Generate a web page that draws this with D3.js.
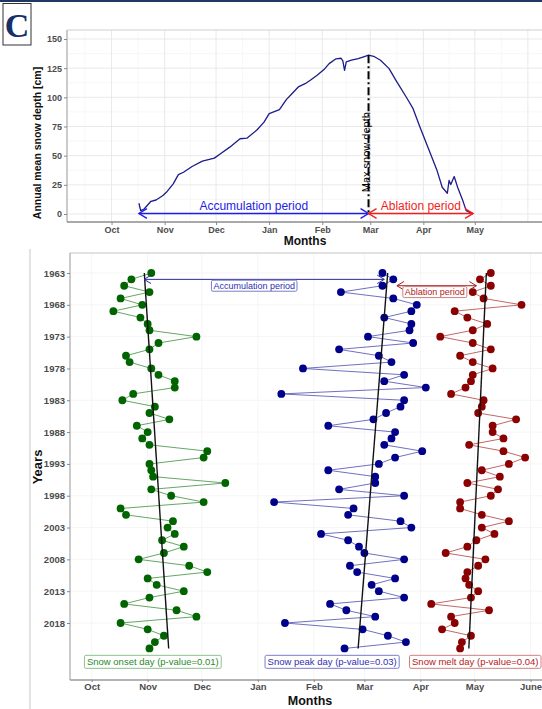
<!DOCTYPE html>
<html><head><meta charset="utf-8">
<script src="https://cdn.jsdelivr.net/npm/d3@7"></script>
<style>
body{margin:0;background:#fff;}
svg{display:block;font-family:"Liberation Sans",Arial,sans-serif;}
</style>
</head><body>
<svg id="c" width="542" height="709"></svg>
<script>
// ---------- Top panel data: annual mean snow depth (cm) ----------
const depthDates = ["10-17","10-18","10-20","10-24","10-27","10-31","11-02","11-06","11-09","11-12","11-17","11-23","11-30",
  "12-04","12-09","12-15","12-19","12-25","12-29","01-01","01-07","01-11","01-14","01-18","01-22","01-25","01-29",
  "02-02","02-05","02-09","02-12","02-13","02-14","02-15","02-18","02-22","02-26","02-28","03-03","03-07","03-12",
  "03-16","03-22","03-26","03-30","04-04","04-09","04-12","04-15","04-16","04-17","04-19","04-21","04-24","04-26","04-30"];
const depthValues = [9.2,2.9,4.3,10.9,12,15.8,18.6,25.8,33.8,35.8,40.7,45.3,47.9,
  52.1,57.3,64.5,65,72.2,78.8,86,89.4,98,102.6,108.9,111.7,114.6,118.9,
  123.8,128.9,133,133.5,131.2,123.2,130.4,131.8,133.2,135.2,136.1,135.2,131.8,124.6,
  114.6,100.3,90.3,74.5,55.9,37.2,22.9,17.8,28.7,25.2,32.1,22.9,11.5,2.9,0];
const depthTicks = [0,25,50,75,100,125,150];
const topMonthTicks = ["10-01","11-01","12-01","01-01","02-01","03-01","04-01","05-01"];
const topMonthLabels = ["Oct","Nov","Dec","Jan","Feb","Mar","Apr","May"];
const topPeriodNames = ["Accumulation period","Ablation period"];
const maxLabel = "Max snow depth";

// ---------- Bottom panel data: yearly snow days ----------
const years = d3.range(1963, 2023);
const onsetDay = ["11-03","10-23","10-19","11-02","10-17","10-29","10-13","10-28","11-01","11-02",
  "11-28","11-07","11-02","10-20","10-22","11-03","11-07","11-16","11-16","10-24",
  "10-18","11-05","11-02","11-13","10-26","11-01","10-29","11-02","12-04","12-02",
  "11-02","11-03","11-04","12-14","11-03","11-14","12-02","10-17","10-20","11-15",
  "11-12","11-16","11-09","11-21","11-10","10-27","11-24","12-04","11-01","11-06",
  "11-21","11-02","10-19","11-17","11-28","10-17","11-01","11-10","11-05","11-02"];
const peakDay = ["03-11","03-17","03-11","02-16","03-17","03-30","03-27","03-12","03-27","03-26",
  "03-03","03-28","02-15","03-09","03-16","01-26","03-23","03-12","04-04","01-14",
  "03-23","03-21","03-13","03-06","02-09","03-18","03-16","03-12","04-02","03-18",
  "03-09","02-09","03-07","03-07","02-15","03-23","01-10","02-23","02-20","03-21",
  "03-27","02-05","02-20","02-26","03-01","03-23","02-21","02-25","03-18","03-05",
  "03-09","03-23","02-10","02-19","03-07","01-16","02-28","03-14","03-24","02-18"];
const meltDay = ["05-10","05-04","05-10","04-30","05-06","05-27","04-20","04-27","05-08","04-30",
  "04-12","04-30","05-10","04-23","04-30","05-11","04-30","04-29","04-26","04-18",
  "05-06","05-05","05-03","05-24","05-11","05-11","05-17","04-28","05-17","05-29",
  "05-20","05-05","05-15","04-27","05-14","05-10","04-23","04-23","05-05","05-20",
  "05-05","05-12","05-02","04-27","04-15","05-07","05-03","04-27","04-26","04-28",
  "05-03","04-29","04-07","05-09","04-18","04-20","04-13","04-29","04-24","04-23"];
const seriesNames = ["Snow onset day (p-value=0.01)","Snow peak day (p-value=0.03)","Snow melt day (p-value=0.04)"];
const yearTicks = [1963,1968,1973,1978,1983,1988,1993,1998,2003,2008,2013,2018];
const botMonthTicks = ["10-01","11-01","12-01","01-01","02-01","03-01","04-01","05-01","06-01"];
const botMonthLabels = ["Oct","Nov","Dec","Jan","Feb","Mar","Apr","May","June"];
const periodNames = ["Accumulation period","Ablation period"];
const periodStart = ["10-30","03-19"];
const periodEnd = ["03-12","05-02"];
const periodLabelAt = ["12-30","04-09"];
const periodYear = [1964, 1965];
const seriesLabelAt = ["09-27","01-05","03-26"];
const seriesLabelYear = 2024.1;

// ---------- helpers ----------
const parseMD = s => { const [m, d] = s.split("-").map(Number); return new Date(m >= 8 ? 2001 : 2002, m - 1, d); };
const svg = d3.select("#c");
const FONT = "'Liberation Sans', Arial, sans-serif";

// header bar & panel letter
svg.append("rect").attr("x",0).attr("y",0).attr("width",542).attr("height",2).attr("fill","#1f3864");
svg.append("rect").attr("x",3).attr("y",3.5).attr("width",28).attr("height",41.5).attr("fill","#fff").attr("stroke","#333").attr("stroke-width",1);
svg.append("text").attr("x",17).attr("y",37).attr("text-anchor","middle")
  .attr("font-family","'Liberation Serif','DejaVu Serif',serif").attr("font-weight","bold").attr("font-size",34)
  .attr("fill","#16306a").text("C");

// ================= TOP PANEL =================
const tp = {l:67, r:545, t:30, b:222};
const xT = d3.scaleTime().domain([new Date(2001,8,5), new Date(2002,5,11)]).range([tp.l, tp.r]);
const yT = d3.scaleLinear().domain([0,150]).range([214, 39]);
const gT = svg.append("g");
// grid
const topMajor = topMonthTicks.concat(["06-01"]).map(parseMD);
const topMinor = [];
for (let i = 0; i < topMajor.length - 1; i++) topMinor.push(new Date((+topMajor[i] + +topMajor[i+1]) / 2));
topMinor.push(new Date(+topMajor[0] - ( +topMajor[1] - +topMajor[0]) / 2));
gT.selectAll(".vmin").data(topMinor).join("line").attr("x1",d=>xT(d)).attr("x2",d=>xT(d)).attr("y1",tp.t).attr("y2",tp.b)
  .attr("stroke","#f2f2f2").attr("stroke-width",0.6);
const hMinor = depthTicks.slice(0,-1).map(v=>v+12.5).concat([162.5]);
gT.selectAll(".hmin").data(hMinor.filter(v=>yT(v)>tp.t)).join("line").attr("x1",tp.l).attr("x2",tp.r).attr("y1",d=>yT(d)).attr("y2",d=>yT(d))
  .attr("stroke","#f2f2f2").attr("stroke-width",0.6);
gT.selectAll(".vmaj").data(topMajor).join("line").attr("x1",d=>xT(d)).attr("x2",d=>xT(d)).attr("y1",tp.t).attr("y2",tp.b)
  .attr("stroke","#e6e6e6").attr("stroke-width",0.9);
gT.selectAll(".hmaj").data(depthTicks).join("line").attr("x1",tp.l).attr("x2",tp.r).attr("y1",d=>yT(d)).attr("y2",d=>yT(d))
  .attr("stroke","#e6e6e6").attr("stroke-width",0.9);
// border
gT.append("line").attr("x1",tp.l).attr("x2",tp.r).attr("y1",tp.t).attr("y2",tp.t).attr("stroke","#cfcfcf").attr("stroke-width",1);
gT.append("line").attr("x1",tp.l).attr("x2",tp.l).attr("y1",tp.t).attr("y2",tp.b).attr("stroke","#a8a8a8").attr("stroke-width",1.2);
gT.append("line").attr("x1",tp.l).attr("x2",tp.r).attr("y1",tp.b).attr("y2",tp.b).attr("stroke","#8c8c8c").attr("stroke-width",1.6);

// axes
const axTL = gT.append("g").attr("transform",`translate(${tp.l},0)`)
  .call(d3.axisLeft(yT).tickValues(depthTicks).tickSize(3).tickPadding(2));
axTL.select(".domain").remove();
axTL.selectAll("line").attr("stroke","#888");
axTL.selectAll("text").attr("font-family",FONT).attr("font-size",9).attr("font-weight","bold").attr("fill","#4d4d4d");
const axTB = gT.append("g").attr("transform",`translate(0,${tp.b})`)
  .call(d3.axisBottom(xT).tickValues(topMonthTicks.map(parseMD)).tickFormat((d,i)=>topMonthLabels[i]).tickSize(3).tickPadding(2));
axTB.select(".domain").remove();
axTB.selectAll("line").attr("stroke","#888");
axTB.selectAll("text").attr("font-family",FONT).attr("font-size",9).attr("font-weight","bold").attr("fill","#4d4d4d");

svg.append("text").attr("transform","translate(41,143) rotate(-90)").attr("text-anchor","middle")
  .attr("font-family",FONT).attr("font-size",10.5).attr("font-weight","bold").attr("fill","#111").text("Annual mean snow depth [cm]");
svg.append("text").attr("x",305).attr("y",245).attr("text-anchor","middle")
  .attr("font-family",FONT).attr("font-size",12).attr("font-weight","bold").attr("fill","#111").text("Months");

// curve
const depth = depthDates.map((d,i)=>({date:parseMD(d), v:depthValues[i]}));
gT.append("path").datum(depth).attr("fill","none").attr("stroke","#1c1c8a").attr("stroke-width",1.3)
  .attr("stroke-linejoin","round").attr("d", d3.line().x(d=>xT(d.date)).y(d=>yT(d.v)));

const peak = depth[d3.maxIndex(depth, d=>d.v)];
const first = depth[0], last = depth[depth.length-1];
// max line
gT.append("line").attr("x1",xT(peak.date)).attr("x2",xT(peak.date)).attr("y1",yT(peak.v)).attr("y2",yT(0))
  .attr("stroke","#000").attr("stroke-width",2).attr("stroke-dasharray","8,3,2,3");
gT.append("text").attr("transform",`translate(${xT(peak.date)-1},${yT(53)}) rotate(-90)`).attr("text-anchor","middle")
  .attr("dominant-baseline","middle").attr("font-family",FONT).attr("font-size",11).attr("fill","#000").text(maxLabel);

function arrowH(g, x1, x2, y, color, w, head) {
  g.append("line").attr("x1",x1).attr("x2",x2).attr("y1",y).attr("y2",y).attr("stroke",color).attr("stroke-width",w);
  g.append("path").attr("d",`M${x1+head},${y-head*0.6}L${x1},${y}L${x1+head},${y+head*0.6}`).attr("fill","none").attr("stroke",color).attr("stroke-width",w);
  g.append("path").attr("d",`M${x2-head},${y-head*0.6}L${x2},${y}L${x2-head},${y+head*0.6}`).attr("fill","none").attr("stroke",color).attr("stroke-width",w);
}
const topCols = ["#1e1ee6","#f01e1e"];
const topSeg = [[first.date, peak.date],[peak.date, last.date]];
topSeg.forEach((s,i)=>{
  arrowH(gT, xT(s[0]), xT(s[1]), yT(0)-0.5, topCols[i], 1.4, 8);
  gT.append("text").attr("x",(xT(s[0])+xT(s[1]))/2).attr("y",yT(0)-4.5).attr("text-anchor","middle")
    .attr("font-family",FONT).attr("font-size",12).attr("fill",topCols[i]).text(topPeriodNames[i]);
});

// ================= BOTTOM PANEL =================
const bp = {l:70, r:545, t:253, b:680};
const xB = d3.scaleTime().domain([new Date(2001,8,19), new Date(2002,5,9)]).range([bp.l, bp.r]);
const yB = d3.scaleLinear().domain([1963,2018]).range([273,623]);
const gB = svg.append("g");
// outer frame line
svg.append("line").attr("x1",30).attr("x2",30).attr("y1",249).attr("y2",709).attr("stroke","#c8c8c8").attr("stroke-width",1);
// faint grid
gB.selectAll(".vg").data(botMonthTicks.map(parseMD)).join("line").attr("x1",d=>xB(d)).attr("x2",d=>xB(d)).attr("y1",bp.t).attr("y2",bp.b)
  .attr("stroke","#f4f4f4").attr("stroke-width",0.9);
gB.selectAll(".hg").data(yearTicks).join("line").attr("x1",bp.l).attr("x2",bp.r).attr("y1",d=>yB(d)).attr("y2",d=>yB(d))
  .attr("stroke","#f4f4f4").attr("stroke-width",0.9);
gB.append("line").attr("x1",bp.l).attr("x2",bp.r).attr("y1",bp.t).attr("y2",bp.t).attr("stroke","#c4c4c4").attr("stroke-width",1);
gB.append("line").attr("x1",bp.l).attr("x2",bp.l).attr("y1",bp.t).attr("y2",bp.b).attr("stroke","#a8a8a8").attr("stroke-width",1.2);
gB.append("line").attr("x1",bp.l).attr("x2",bp.r).attr("y1",bp.b).attr("y2",bp.b).attr("stroke","#9a9a9a").attr("stroke-width",1.4);

const axBL = gB.append("g").attr("transform",`translate(${bp.l},0)`)
  .call(d3.axisLeft(yB).tickValues(yearTicks).tickFormat(d3.format("d")).tickSize(3).tickPadding(2));
axBL.select(".domain").remove();
axBL.selectAll("line").attr("stroke","#888");
axBL.selectAll("text").attr("font-family",FONT).attr("font-size",9.5).attr("font-weight","bold").attr("fill","#4d4d4d");
const axBB = gB.append("g").attr("transform",`translate(0,${bp.b})`)
  .call(d3.axisBottom(xB).tickValues(botMonthTicks.map(parseMD)).tickFormat((d,i)=>botMonthLabels[i]).tickSize(2).tickPadding(1.5));
axBB.select(".domain").remove();
axBB.selectAll("line").attr("stroke","#888");
axBB.selectAll("text").attr("font-family",FONT).attr("font-size",9.5).attr("font-weight","bold").attr("fill","#4d4d4d");

svg.append("text").attr("transform","translate(42,467) rotate(-90)").attr("text-anchor","middle")
  .attr("font-family",FONT).attr("font-size",13).attr("font-weight","bold").attr("fill","#111").text("Years");
svg.append("text").attr("x",310).attr("y",705).attr("text-anchor","middle")
  .attr("font-family",FONT).attr("font-size",12.5).attr("font-weight","bold").attr("fill","#111").text("Months");

function boxedText(g, x, y, anchor, txt, size, col, boxCol, pad, h) {
  const grp = g.append("g");
  const rect = grp.append("rect");
  const t = grp.append("text").attr("y",y).attr("dominant-baseline","central")
    .attr("font-family",FONT).attr("font-size",size).attr("fill",col).text(txt);
  const w = t.node().getComputedTextLength();
  const left = anchor === "middle" ? x - w/2 - pad : x;
  t.attr("x", left + pad);
  rect.attr("x",left).attr("y",y-h/2).attr("width",w+2*pad).attr("height",h).attr("rx",1.5)
    .attr("fill","#fff").attr("stroke",boxCol).attr("stroke-width",1);
}

const series = [
  {vals: onsetDay, pt:"#006400", ln:"#3f8f3f", lab:"#2a8a2a", box:"#8fc08f"},
  {vals: peakDay, pt:"#00008b", ln:"#4b4bb0", lab:"#2f2fb0", box:"#7c7ccc"},
  {vals: meltDay, pt:"#8b0000", ln:"#b24040", lab:"#b22222", box:"#d08080"}
];
series.forEach((s,si)=>{
  const pts = years.map((y,i)=>({year:y, date:parseMD(s.vals[i])}));
  gB.append("path").datum(pts).attr("fill","none").attr("stroke",s.ln).attr("stroke-width",0.8)
    .attr("d", d3.line().x(d=>xB(d.date)).y(d=>yB(d.year)));
  gB.append("g").selectAll("circle").data(pts).join("circle").attr("cx",d=>xB(d.date)).attr("cy",d=>yB(d.year)).attr("r",3.9).attr("fill",s.pt);
  // linear trend: day regressed on year
  const xs = pts.map(d=>+d.date), ys = pts.map(d=>d.year);
  const mx = d3.mean(xs), my = d3.mean(ys);
  let sxy = 0, syy = 0;
  xs.forEach((x,i)=>{ sxy += (ys[i]-my)*(x-mx); syy += (ys[i]-my)**2; });
  const b = sxy/syy;
  const f = y => new Date(mx + b*(y-my));
  const y0 = years[0], y1 = years[years.length-1];
  gB.append("line").attr("x1",xB(f(y0))).attr("y1",yB(y0)).attr("x2",xB(f(y1))).attr("y2",yB(y1))
    .attr("stroke","#111").attr("stroke-width",1.4);
  boxedText(gB, xB(parseMD(seriesLabelAt[si])), yB(seriesLabelYear), "start", seriesNames[si], 9.5, s.lab, s.box, 2.5, 13);
});

// period arrows in bottom panel
const perCols = [{ln:"#2a2a9a", lab:"#2f2fb0", box:"#7c7ccc"},{ln:"#a02020", lab:"#b22222", box:"#d08080"}];
periodNames.forEach((n,i)=>{
  arrowH(gB, xB(parseMD(periodStart[i])), xB(parseMD(periodEnd[i])), yB(periodYear[i]), perCols[i].ln, 1, 7);
  boxedText(gB, xB(parseMD(periodLabelAt[i])), yB(periodYear[i]+1), "middle", n, 9, perCols[i].lab, perCols[i].box, 2, 11);
});
</script>
</body></html>
